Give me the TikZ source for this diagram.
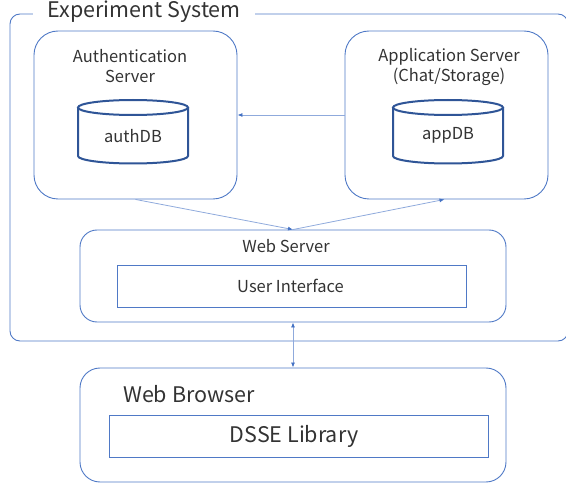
\documentclass[tikz,border=0pt]{standalone}
\usepackage{fontspec}
\setmainfont{Noto Sans CJK JP}
\usetikzlibrary{arrows.meta}
\definecolor{frameblue}{HTML}{4F79C6}
\definecolor{dbblue}{HTML}{2F5597}
\definecolor{linkblue}{HTML}{8FAADC}
\definecolor{headblue}{HTML}{4472C4}
\definecolor{txt}{HTML}{333333}
\tikzset{
  srvbox/.style={draw=frameblue, line width=0.9pt, rounded corners=24pt},
  panelbox/.style={draw=frameblue, line width=0.9pt, rounded corners=17pt},
  innerbox/.style={draw=frameblue, line width=0.8pt},
  lbl/.style={text=txt, font=\fontsize{16.5}{20}\selectfont, inner sep=0pt, anchor=base},
  biglbl/.style={text=txt, font=\fontsize{21.5}{24}\selectfont, inner sep=0pt, anchor=base},
  link/.style={draw=linkblue, line width=0.8pt},
  db/.style={draw=dbblue, line width=2pt}
}
% database symbol: centre x, top ellipse centre y, half width, height, name, label baseline
\newcommand{\dbdrum}[6]{%
  \draw[db, fill=white] (#1-#3,#2) -- (#1-#3,#2+#4)
    arc[start angle=180, end angle=0, x radius=#3, y radius=7.5]
    -- (#1+#3,#2);
  \draw[db] (#1,#2) ellipse[x radius=#3, y radius=7.5];
  \node[lbl] (#5) at (#1,#6) {#5};
}
\begin{document}
\begin{tikzpicture}[x=1pt,y=-1pt]
\useasboundingbox (0,0) rectangle (566,484);

% outer system frame with its title
\draw[frameblue, line width=0.9pt, rounded corners=10pt] (10,14) rectangle (568,341);
\fill[white] (33,8) rectangle (255,20);
\node[biglbl] (systitle) at (144,18) {Experiment System};

% servers
\node[srvbox, minimum width=203pt, minimum height=168pt] (auth) at (135.5,115) {};
\node[lbl] (authtitle) at (130,62.5) {Authentication};
\node[lbl] (authtitleb) at (130,83) {Server};
\dbdrum{133}{107.5}{55}{48.5}{authDB}{143}

\node[srvbox, minimum width=203pt, minimum height=168pt] (app) at (446.5,115) {};
\node[lbl] (apptitle) at (449,61.5) {Application Server};
\node[lbl] (apptitleb) at (449,81.5) {(Chat/Storage)};
\dbdrum{448}{107.5}{55}{48.5}{appDB}{140}

% web server
\node[panelbox, minimum width=426pt, minimum height=92pt] (web) at (293,276) {};
\node[lbl] (webtitle) at (286,253) {Web Server};
\node[innerbox, minimum width=349pt, minimum height=42pt] (ui) at (291.5,286) {};
\node[lbl] (uitext) at (290.5,292.5) {User Interface};

% web browser
\node[panelbox, rounded corners=20pt, minimum width=426pt, minimum height=114pt] (browser) at (293,425) {};
\node[biglbl] (browsertitle) at (189,402.5) {Web Browser};
\node[innerbox, minimum width=379pt, minimum height=42pt] (dsse) at (298.5,436) {};
\node[biglbl] (dssetext) at (294,442.5) {DSSE Library};

% connectors
\draw[link, -{Latex[length=5pt,width=4pt,color=headblue]}] (app.west) -- (auth.east);
\draw[link, -{Latex[length=5pt,width=4pt,color=headblue]}] (auth.south) -- (web.north);
\draw[link, -{Latex[length=5pt,width=4pt,color=headblue]}] (web.north) -- ([xshift=-2pt]app.south);
\draw[link, {Latex[length=5pt,width=4pt,color=headblue]}-{Latex[length=5pt,width=4pt,color=headblue]}] (web.south) -- (browser.north);
\end{tikzpicture}
\end{document}
